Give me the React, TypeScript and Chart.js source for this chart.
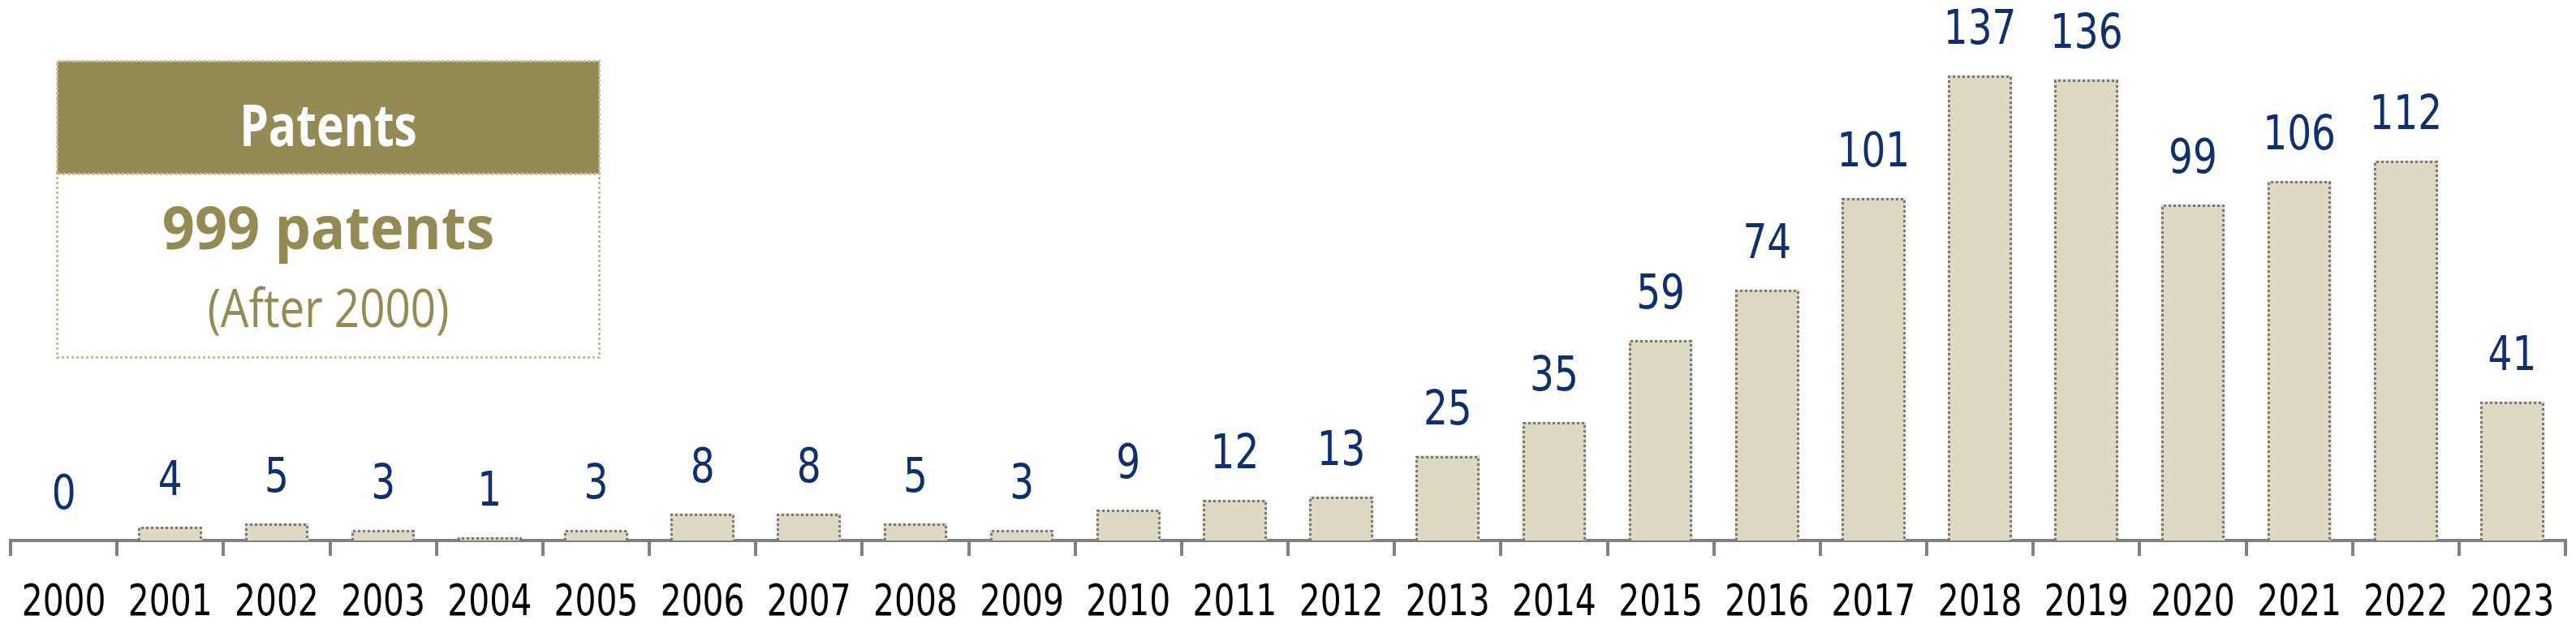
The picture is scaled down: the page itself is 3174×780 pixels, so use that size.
import React, { useEffect, useRef } from 'react';
import { Chart, registerables } from 'chart.js';

Chart.register(...registerables);

const years = ['2000', '2001', '2002', '2003', '2004', '2005', '2006', '2007', '2008', '2009', '2010', '2011', '2012', '2013', '2014', '2015', '2016', '2017', '2018', '2019', '2020', '2021', '2022', '2023'];
const patentCounts = [0, 4, 5, 3, 1, 3, 8, 8, 5, 3, 9, 12, 13, 25, 35, 59, 74, 101, 137, 136, 99, 106, 112, 41];
const legendTitle = 'Patents';
const legendTotal = '999 patents';
const legendNote = '(After 2000)';

const COND = '"DejaVu Sans Condensed", "DejaVu Sans", sans-serif';
const LEGEND_FONT = '"Open Sans", "Noto Sans", sans-serif';

const barDecor = {
  id: 'barDecor',
  afterDatasetsDraw(chart: any) {
    const ctx = chart.ctx as CanvasRenderingContext2D;
    const meta = chart.getDatasetMeta(0);
    ctx.save();
    meta.data.forEach((bar: any, i: number) => {
      const { x, y, base, width } = bar.getProps(['x', 'y', 'base', 'width'], true);
      const v = patentCounts[i];
      if (v > 0) {
        const l = Math.round(x - width / 2) + 1.5;
        const r = Math.round(x + width / 2) - 1.5;
        const t = Math.round(y) + 1.5;
        ctx.beginPath();
        ctx.moveTo(l, base);
        ctx.lineTo(l, t);
        ctx.lineTo(r, t);
        ctx.lineTo(r, base);
        ctx.setLineDash([3, 3]);
        ctx.lineWidth = 3;
        ctx.strokeStyle = '#777777';
        ctx.stroke();
      }
      ctx.setLineDash([]);
      ctx.save();
      ctx.translate(x, y - 39);
      ctx.scale(0.9, 1);
      ctx.fillStyle = '#112f6f';
      ctx.font = `58px ${COND}`;
      ctx.textAlign = 'center';
      ctx.textBaseline = 'alphabetic';
      ctx.fillText(String(v), 0, 0);
      ctx.restore();
    });
    ctx.restore();
  },
  afterDraw(chart: any) {
    const ctx = chart.ctx as CanvasRenderingContext2D;
    const xs = chart.scales.x;
    ctx.save();
    ctx.fillStyle = '#000000';
    ctx.font = `54px ${COND}`;
    ctx.textAlign = 'center';
    ctx.textBaseline = 'middle';
    years.forEach((label, i) => {
      const px = xs.getPixelForTick(i);
      ctx.save();
      ctx.translate(px, xs.top + 78);
      ctx.scale(0.84, 1);
      ctx.fillText(label, 0, 0);
      ctx.restore();
    });
    ctx.restore();
  },
};

export default function App() {
  const canvasRef = useRef<HTMLCanvasElement | null>(null);

  useEffect(() => {
    if (!canvasRef.current) return;
    const chart = new Chart(canvasRef.current, {
      type: 'bar',
      data: {
        labels: years,
        datasets: [
          {
            data: patentCounts,
            backgroundColor: '#ddd9c3',
            borderWidth: 0,
            barPercentage: 0.6,
            categoryPercentage: 1.0,
          },
        ],
      },
      options: {
        animation: false,
        responsive: true,
        maintainAspectRatio: false,
        layout: { padding: { left: 13, right: 13, top: 39, bottom: 0 } },
        plugins: {
          legend: { display: false },
          tooltip: { enabled: false },
        },
        scales: {
          x: {
            z: 1,
            grid: {
              offset: true,
              drawOnChartArea: false,
              drawTicks: true,
              tickLength: 19,
              color: '#808080',
              lineWidth: 4,
            },
            border: { display: true, color: '#808080', width: 4 },
            ticks: {
              display: false,
              autoSkip: false,
              maxRotation: 0,
              minRotation: 0,
            },
            afterFit: (scale: any) => {
              scale.height = 114;
            },
          },
          y: {
            display: false,
            min: 0,
            max: 150,
          },
        },
      },
      plugins: [barDecor],
    });
    return () => chart.destroy();
  }, []);

  const olive = '#948a54';
  const dotted = '#c4bd97';

  const line = (top: number, size: number, bold: boolean, color: string, sx: number, text: string) => (
    <div
      style={{
        position: 'absolute',
        left: 0,
        width: 671,
        top,
        textAlign: 'center',
        fontFamily: LEGEND_FONT,
        fontWeight: bold ? 'bold' : 'normal',
        fontSize: size,
        lineHeight: `${size}px`,
        color,
        whiteSpace: 'nowrap',
        transform: `scaleX(${sx})`,
        transformOrigin: 'center',
      }}
    >
      {text}
    </div>
  );

  return (
    <div style={{ position: 'fixed', left: 0, top: 0, width: 3174, height: 780, background: '#ffffff' }}>
      <canvas ref={canvasRef} style={{ position: 'absolute', left: 0, top: 0, width: 3174, height: 780 }} />
      <div style={{ position: 'absolute', left: 69, top: 74, width: 671, height: 368 }}>
        <svg width={671} height={368} style={{ position: 'absolute', left: 0, top: 0 }}>
          <rect x={1.5} y={140} width={668} height={226.5} fill="#ffffff" stroke={dotted} strokeWidth={3} strokeDasharray="3 3" />
          <rect x={1.5} y={1.5} width={668} height={138.5} fill={olive} stroke={dotted} strokeWidth={3} strokeDasharray="3 3" />
        </svg>
        {line(42, 72, true, '#ffffff', 0.79, legendTitle)}
        {line(168, 74, true, olive, 0.95, legendTotal)}
        {line(270, 66, false, olive, 0.83, legendNote)}
      </div>
    </div>
  );
}
